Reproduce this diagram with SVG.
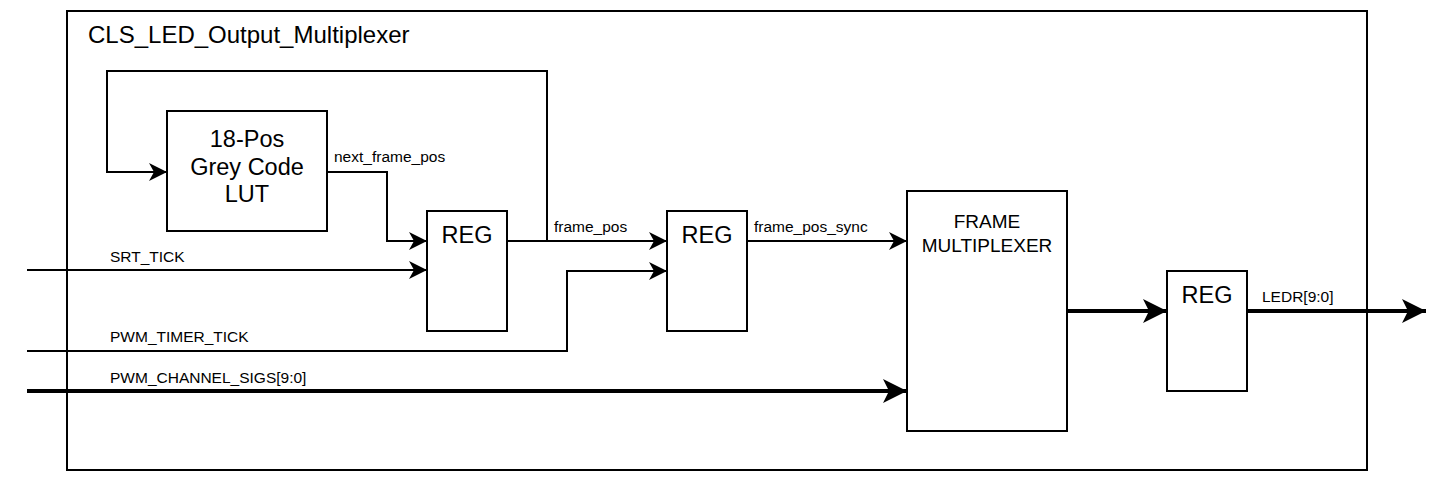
<svg xmlns="http://www.w3.org/2000/svg" width="1454" height="484" viewBox="0 0 1454 484">
<style>
.box{fill:#fff;stroke:#000;stroke-width:2}
.frame{fill:none;stroke:#000;stroke-width:2}
.w{fill:none;stroke:#000;stroke-width:2}
.b{fill:none;stroke:#000;stroke-width:4}
text{font-family:"Liberation Sans",Arial,Helvetica,sans-serif;fill:#000}
.big{font-size:23.5px;text-anchor:middle}
.mid{font-size:19px;text-anchor:middle}
.lbl{font-size:15.5px}
.title{font-size:24px}
</style>
<defs>
<marker id="a" markerUnits="userSpaceOnUse" markerWidth="20" markerHeight="20" refX="18" refY="9" orient="auto" overflow="visible">
<path d="M0,0 L18,9 L0,18 L5,9 Z" fill="#000"/>
</marker>
<marker id="ab" markerUnits="userSpaceOnUse" markerWidth="26" markerHeight="26" refX="24" refY="12" orient="auto" overflow="visible">
<path d="M0,0 L24,12 L0,24 L6,12 Z" fill="#000"/>
</marker>
</defs>
<g id="container">
<rect class="frame" x="67" y="11" width="1300" height="459"/>
<text class="title" x="88" y="43">CLS_LED_Output_Multiplexer</text>
</g>
<g id="lut">
<rect class="box" x="167" y="111" width="160" height="120"/>
<text class="big" x="247" y="147">18-Pos</text>
<text class="big" x="247" y="175">Grey Code</text>
<text class="big" x="247" y="202">LUT</text>
</g>
<g id="reg1">
<rect class="box" x="427" y="211" width="80" height="120"/>
<text class="big" x="467" y="243">REG</text>
</g>
<g id="reg2">
<rect class="box" x="667" y="211" width="80" height="120"/>
<text class="big" x="707" y="243">REG</text>
</g>
<g id="mux">
<rect class="box" x="907" y="191" width="160" height="240"/>
<text class="mid" x="987" y="228">FRAME</text>
<text class="mid" x="987" y="252">MULTIPLEXER</text>
</g>
<g id="reg3">
<rect class="box" x="1167" y="271" width="80" height="120"/>
<text class="big" x="1207" y="303">REG</text>
</g>
<g id="connectors">
<path class="w" d="M547,241 V71 H107 V172 H167" marker-end="url(#a)"/>
<path class="w" d="M327,172 H387 V241 H427" marker-end="url(#a)"/>
<path class="w" d="M507,241 H667" marker-end="url(#a)"/>
<path class="w" d="M27,270 H427" marker-end="url(#a)"/>
<path class="w" d="M27,351 H567 V271 H667" marker-end="url(#a)"/>
<path class="b" d="M27,391 H907" marker-end="url(#ab)"/>
<path class="w" d="M747,241 H907" marker-end="url(#a)"/>
<path class="b" d="M1067,311 H1167" marker-end="url(#ab)"/>
<path class="b" d="M1247,311 H1426" marker-end="url(#ab)"/>
<text class="lbl" x="334" y="162">next_frame_pos</text>
<text class="lbl" x="554" y="232">frame_pos</text>
<text class="lbl" x="754" y="232">frame_pos_sync</text>
<text class="lbl" x="110" y="262">SRT_TICK</text>
<text class="lbl" x="110" y="342">PWM_TIMER_TICK</text>
<text class="lbl" x="110" y="383">PWM_CHANNEL_SIGS[9:0]</text>
<text class="lbl" x="1262" y="302">LEDR[9:0]</text>
</g>
</svg>
